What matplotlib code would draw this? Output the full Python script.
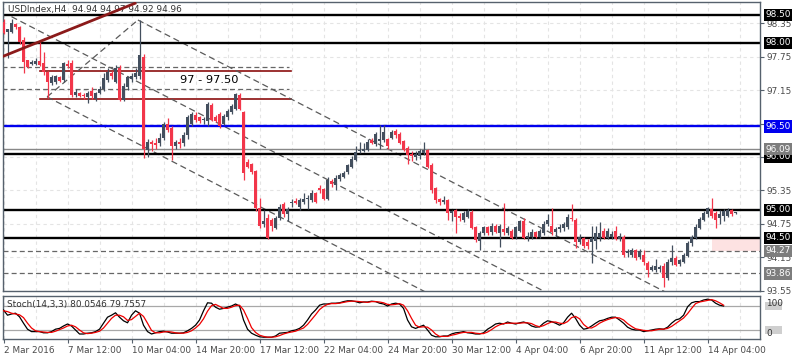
import matplotlib
matplotlib.use("Agg")
import matplotlib.pyplot as plt
from matplotlib.patches import Rectangle
import numpy as np

# ---------------- data ----------------
opens = [98.38, 98.20, 98.20, 98.33, 98.28, 98.05, 97.69, 97.62, 97.62, 97.68,
         97.63, 97.47, 97.28, 97.30, 97.38, 97.33, 97.62, 97.63, 97.06, 97.10,
         97.07, 97.02, 97.14, 97.00, 97.10, 97.17, 97.33, 97.45, 97.30, 97.55,
         96.98, 97.20, 97.35, 97.38, 97.40, 97.75, 96.08, 96.22, 96.20, 96.20,
         96.30, 96.55, 96.47, 96.15, 96.22, 96.20, 96.35, 96.55, 96.70, 96.66,
         96.62, 96.60, 96.88, 96.66, 96.72, 96.55, 96.66, 96.76, 96.82, 97.06,
         96.75, 95.86, 95.82, 95.70, 95.04, 94.75, 94.85, 94.82, 94.68, 94.85,
         95.10, 94.92, 95.12, 95.16, 95.05, 95.14, 95.20, 95.17, 95.30, 95.40,
         95.38, 95.20, 95.52, 95.45, 95.55, 95.60, 95.68, 95.78, 95.90, 96.06,
         96.06, 96.08, 96.25, 96.18, 96.24, 96.26, 96.27, 96.30, 96.42, 96.36,
         96.23, 96.12, 96.00, 95.95, 95.97, 96.02, 96.08, 95.80, 95.40, 95.20,
         95.14, 95.18, 94.95, 95.00, 94.90, 94.82, 94.88, 94.96, 94.70, 94.45,
         94.58, 94.70, 94.60, 94.72, 94.58, 94.66, 94.58, 94.62, 94.52, 94.62,
         94.80, 94.50, 94.52, 94.60, 94.52, 94.58, 94.75, 94.72, 94.60, 94.65,
         94.68, 94.70, 94.86, 94.82, 94.42, 94.50, 94.42, 94.42, 94.45, 94.50,
         94.62, 94.50, 94.52, 94.62, 94.48, 94.52, 94.22, 94.20, 94.28, 94.15,
         94.20, 94.05, 93.92, 93.92, 93.94, 94.00, 93.78, 94.06, 94.14, 94.03,
         94.06, 94.18, 94.40, 94.50, 94.68, 94.82, 94.92, 95.02, 94.95, 94.85,
         94.90, 94.90, 95.00, 94.94]
highs = [98.42, 98.25, 98.42, 98.36, 98.30, 98.10, 97.70, 97.70, 97.72, 98.02,
         97.83, 97.50, 97.42, 97.42, 97.40, 97.66, 97.70, 97.70, 97.18, 97.12,
         97.10, 97.14, 97.20, 97.12, 97.22, 97.45, 97.55, 97.50, 97.60, 97.60,
         97.28, 97.40, 97.45, 97.55, 98.41, 97.80, 96.28, 96.25, 96.30, 96.38,
         96.58, 96.65, 96.50, 96.25, 96.30, 96.40, 96.70, 96.75, 96.76, 96.68,
         96.66, 96.93, 96.92, 96.70, 96.75, 96.72, 96.82, 96.90, 97.10, 97.10,
         96.78, 95.92, 95.85, 95.72, 95.21, 95.00, 94.92, 94.85, 94.90, 95.10,
         95.15, 95.05, 95.20, 95.22, 95.22, 95.30, 95.26, 95.35, 95.32, 95.45,
         95.40, 95.60, 95.55, 95.62, 95.66, 95.70, 95.82, 95.96, 96.15, 96.22,
         96.20, 96.28, 96.30, 96.40, 96.52, 96.52, 96.30, 96.43, 96.45, 96.40,
         96.25, 96.15, 96.05, 96.05, 96.10, 96.22, 96.10, 95.85, 95.42, 95.22,
         95.25, 95.20, 95.00, 95.02, 94.95, 94.98, 95.02, 95.00, 94.72, 94.62,
         94.72, 94.72, 94.76, 94.75, 94.75, 95.12, 94.72, 94.65, 94.72, 94.82,
         94.85, 94.60, 94.65, 94.62, 94.66, 94.80, 94.92, 95.04, 94.70, 94.74,
         94.78, 94.92, 95.10, 94.85, 94.56, 94.52, 94.48, 94.72, 94.72, 94.78,
         94.68, 94.68, 94.62, 94.72, 94.58, 94.55, 94.30, 94.32, 94.30, 94.30,
         94.28, 94.08, 94.02, 94.12, 94.02, 94.05, 94.12, 94.37, 94.18, 94.12,
         94.22, 94.44, 94.55, 94.75, 94.88, 94.98, 95.05, 95.21, 94.98, 95.00,
         95.02, 95.03, 95.02, 94.97]
lows = [98.15, 97.73, 98.18, 98.25, 97.98, 97.46, 97.55, 97.60, 97.60, 97.58,
        97.42, 97.01, 97.25, 97.26, 97.30, 97.30, 97.55, 97.03, 97.02, 97.02,
        97.00, 96.92, 97.00, 96.95, 97.08, 97.14, 97.30, 97.35, 97.28, 96.95,
        96.95, 97.15, 97.30, 97.35, 97.35, 95.93, 95.95, 96.05, 96.10, 96.15,
        96.25, 96.40, 95.90, 96.10, 96.12, 96.15, 96.28, 96.50, 96.58, 96.56,
        96.55, 96.50, 96.60, 96.58, 96.48, 96.52, 96.62, 96.72, 96.80, 96.80,
        95.54, 95.75, 95.65, 94.98, 94.68, 94.70, 94.48, 94.62, 94.65, 94.82,
        94.88, 94.80, 95.05, 95.10, 95.00, 95.10, 95.02, 95.15, 95.12, 95.30,
        95.18, 95.18, 95.42, 95.35, 95.52, 95.58, 95.65, 95.75, 95.88, 96.02,
        96.04, 96.05, 96.18, 96.15, 96.10, 96.22, 96.10, 96.28, 96.30, 96.18,
        96.05, 95.82, 95.88, 95.90, 95.92, 95.98, 95.75, 95.30, 95.12, 95.08,
        95.10, 94.82, 94.80, 94.58, 94.80, 94.78, 94.85, 94.66, 94.42, 94.28,
        94.55, 94.55, 94.55, 94.58, 94.34, 94.55, 94.55, 94.48, 94.48, 94.60,
        94.48, 94.45, 94.48, 94.50, 94.50, 94.55, 94.72, 94.55, 94.52, 94.60,
        94.62, 94.66, 94.80, 94.32, 94.38, 94.32, 94.30, 94.05, 94.30, 94.45,
        94.48, 94.48, 94.48, 94.46, 94.45, 94.15, 94.15, 94.15, 94.10, 94.12,
        94.02, 93.80, 93.90, 93.88, 93.88, 93.62, 93.75, 94.02, 94.00, 94.00,
        94.04, 94.16, 94.36, 94.48, 94.65, 94.80, 94.88, 94.85, 94.68, 94.75,
        94.80, 94.88, 94.90, 94.92]
closes = [98.18, 98.24, 98.35, 98.28, 98.02, 97.66, 97.57, 97.66, 97.67, 97.61,
          97.47, 97.30, 97.38, 97.40, 97.32, 97.63, 97.58, 97.06, 97.12, 97.05,
          97.04, 97.10, 97.05, 97.10, 97.18, 97.37, 97.48, 97.40, 97.55, 96.97,
          97.22, 97.38, 97.40, 97.45, 97.78, 96.10, 96.22, 96.18, 96.16, 96.30,
          96.55, 96.43, 96.15, 96.22, 96.18, 96.35, 96.66, 96.72, 96.62, 96.60,
          96.63, 96.90, 96.62, 96.60, 96.50, 96.68, 96.78, 96.86, 97.08, 96.82,
          95.66, 95.78, 95.68, 95.04, 94.72, 94.80, 94.50, 94.72, 94.86, 95.05,
          94.92, 95.02, 95.15, 95.12, 95.18, 95.20, 95.22, 95.30, 95.15, 95.35,
          95.20, 95.53, 95.46, 95.57, 95.62, 95.66, 95.80, 95.92, 96.04, 96.08,
          96.10, 96.22, 96.20, 96.36, 96.28, 96.40, 96.15, 96.40, 96.35, 96.20,
          96.08, 95.98, 95.96, 96.00, 96.05, 96.08, 95.78, 95.36, 95.18, 95.15,
          95.18, 94.95, 94.98, 94.88, 94.85, 94.95, 94.98, 94.68, 94.46, 94.58,
          94.70, 94.58, 94.72, 94.60, 94.72, 94.60, 94.68, 94.50, 94.70, 94.80,
          94.50, 94.54, 94.60, 94.52, 94.62, 94.75, 94.82, 94.60, 94.66, 94.70,
          94.75, 94.88, 94.83, 94.42, 94.52, 94.35, 94.35, 94.50, 94.58, 94.58,
          94.50, 94.62, 94.56, 94.48, 94.53, 94.20, 94.27, 94.28, 94.14, 94.26,
          94.06, 93.92, 93.97, 94.00, 93.98, 93.78, 94.06, 94.14, 94.02, 94.10,
          94.20, 94.40, 94.52, 94.70, 94.84, 94.95, 95.03, 94.90, 94.82, 94.92,
          94.98, 95.00, 94.93, 94.96]

stoch_main = [70, 57, 60, 62, 53, 37, 22, 16, 16, 16, 13, 13, 16, 22, 24, 30, 35, 30, 20, 10,
              10, 12, 13, 16, 22, 37, 52, 57, 63, 52, 43, 38, 57, 68, 62, 32, 16, 10, 13, 16,
              17, 15, 12, 12, 12, 13, 18, 24, 32, 45, 68, 88, 87, 77, 72, 74, 77, 80, 85, 80,
              45, 22, 12, 7, 3, 2, 2, 2, 5, 12, 13, 14, 18, 20, 24, 32, 45, 60, 70, 82,
              85, 85, 87, 87, 88, 91, 93, 93, 91, 88, 90, 90, 92, 91, 87, 85, 80, 85, 87, 85,
              74, 45, 28, 24, 28, 32, 20, 7, 3, 3, 5, 5, 10, 13, 14, 16, 13, 12, 10, 10,
              13, 22, 28, 35, 37, 35, 40, 37, 35, 38, 40, 37, 30, 27, 28, 37, 43, 41, 37, 32,
              38, 52, 62, 49, 32, 22, 24, 30, 37, 43, 45, 49, 52, 52, 45, 37, 27, 22, 20, 20,
              16, 18, 20, 22, 23, 22, 27, 37, 45, 48, 57, 78, 88, 91, 91, 95, 97, 95, 87, 82,
              80]
stoch_signal = [68, 66, 62, 60, 58, 51, 37, 25, 18, 16, 15, 14, 14, 17, 21, 25, 30, 32, 28, 20,
                13, 11, 12, 14, 17, 25, 37, 49, 57, 57, 53, 44, 46, 54, 62, 54, 37, 19, 13, 13,
                15, 16, 15, 13, 12, 12, 14, 18, 25, 34, 48, 67, 81, 84, 79, 74, 74, 77, 81, 82,
                70, 49, 26, 14, 7, 4, 2, 2, 3, 6, 10, 13, 15, 17, 21, 25, 34, 46, 58, 71,
                79, 84, 86, 86, 87, 89, 91, 92, 92, 91, 90, 89, 91, 91, 90, 88, 84, 83, 84, 86,
                82, 68, 49, 32, 27, 28, 27, 20, 10, 4, 4, 4, 7, 9, 12, 14, 14, 14, 12, 11,
                11, 15, 21, 28, 33, 36, 37, 37, 37, 37, 38, 38, 36, 31, 28, 31, 36, 40, 40, 37,
                36, 41, 51, 54, 48, 34, 26, 25, 30, 37, 42, 46, 49, 51, 50, 45, 36, 29, 23, 21,
                19, 18, 18, 20, 22, 22, 24, 29, 36, 43, 50, 61, 74, 86, 90, 92, 94, 96, 93, 88,
                82]

date_labels = ["2 Mar 2016", "7 Mar 12:00", "10 Mar 04:00", "14 Mar 20:00", "17 Mar 12:00",
               "22 Mar 04:00", "24 Mar 20:00", "30 Mar 12:00", "4 Apr 04:00", "6 Apr 20:00",
               "11 Apr 12:00", "14 Apr 04:00"]
price_ticks = [98.35, 97.75, 97.15, 96.55, 95.95, 95.35, 94.75, 94.15, 93.55]
price_tick_labels = ["98.35", "97.75", "97.15", "", "", "95.35", "94.75", "94.15", "93.55"]

# horizontal levels drawn on the chart
black_levels = [98.50, 98.00, 96.00, 95.00, 94.50]
blue_level = 96.50
grey_level = 96.09
dashed_levels = [94.27, 93.86]
zone_levels = [97.50, 97.00]          # dark red box lines "97 - 97.50"
zone_dashed = [97.57, 97.17]
zone_bars = [9.1, 71.9]
zone_dashed_bars = [-0.3, 71.4]
trend_bars = [-0.4, 33.2]             # dark red trend line
trend_prices = [97.75, 98.72]
pitch_bars = [2.0, 10.9, 33.6]        # pitchfork anchors
pitch_prices = [98.47, 97.03, 98.41]
pink_zone = [94.27, 94.50]
pink_start = 177
stoch_levels = [80, 20]
stoch_axis_labels = ["100", "0"]

title = "USDIndex,H4  94.94 94.97 94.92 94.96"
stoch_title = "Stoch(14,3,3) 80.0546 79.7557"

# ---------------- drawing ----------------
BULL = "#434f5e"
BEAR = "#f2364a"
FRAME = "#56616d"
GRID = "#e4e4e4"
TXT = "#4a4a4a"
FS = 6.4

fig = plt.figure(figsize=(8, 3.6), dpi=100)
fig.patch.set_facecolor("white")
ax = fig.add_axes([2.5 / 800, 1 - 291 / 360, 757.5 / 800, 288.7 / 360])
ax2 = fig.add_axes([2.5 / 800, 1 - 339.3 / 360, 757.5 / 800, 43.3 / 360])

n = len(opens)
idx = np.arange(n)
xmax = 189.1
for a in (ax, ax2):
    a.set_xlim(-0.25, xmax)
    for s in a.spines.values():
        s.set_color(FRAME)
        s.set_linewidth(1.0)
    for g in range(0, 190, 8):
        a.axvline(g, color=GRID, lw=0.8, ls=(0, (3, 3)), zorder=0)

ax.set_ylim(93.545, 98.728)

for p in price_ticks:
    ax.axhline(p, color=GRID, lw=0.8, ls=(0, (3, 3)), zorder=0)

# pink zone
ax.fill_between([pink_start, xmax], pink_zone[0], pink_zone[1], color="#fde2e2", zorder=0.5, lw=0)

# dashed zone lines and dark red zone lines
for p in zone_dashed:
    ax.plot(zone_dashed_bars, [p, p], color="#666666", lw=0.9, ls=(0, (4, 2.5)), zorder=1)
for p in zone_levels:
    ax.plot(zone_bars, [p, p], color="#8b0e0e", lw=1.2, zorder=1)

# pitchfork
mid_bar = (pitch_bars[1] + pitch_bars[2]) / 2
mid_price = (pitch_prices[1] + pitch_prices[2]) / 2
slope = (mid_price - pitch_prices[0]) / (mid_bar - pitch_bars[0])
PF = dict(color="#5a5a5a", lw=0.9, ls=(0, (5, 3)), zorder=1)
for b0, p0 in zip(pitch_bars, pitch_prices):
    ax.plot([b0, xmax + 5], [p0, p0 + slope * (xmax + 5 - b0)], **PF)
ax.plot(pitch_bars[1:], pitch_prices[1:], **PF)

# horizontal levels
for p in black_levels:
    ax.axhline(p, color="black", lw=1.7, zorder=2)
ax.axhline(blue_level, color="#0000ee", lw=1.7, zorder=2)
ax.axhline(grey_level, color="#888888", lw=1.0, zorder=2)
for p in dashed_levels:
    ax.axhline(p, color="#666666", lw=0.9, ls=(0, (4, 2.5)), zorder=2)

# candles
o = np.array(opens); h = np.array(highs); l = np.array(lows); c = np.array(closes)
up = c >= o
colors = np.where(up, BULL, BEAR)
ax.vlines(idx, l, h, colors=colors, lw=0.9, zorder=3)
body_bottom = np.minimum(o, c)
body_h = np.maximum(np.abs(c - o), 0.015)
ax.bar(idx, body_h, bottom=body_bottom, width=0.72, color=colors, lw=0, zorder=4)

# trend line
ax.plot(trend_bars, trend_prices, color="#8b1a1a", lw=2.0, zorder=5, solid_capstyle="butt")

# texts
ax.text(0.007, 0.975, title, transform=ax.transAxes, fontsize=FS, color="#333333",
        ha="left", va="center", zorder=4)
ax.text(51.5, 97.34, "97 - 97.50", fontsize=8.2, color="black", ha="center", va="center", zorder=6)

# right price axis
ax.yaxis.tick_right()
ax.set_yticks(price_ticks)
ax.set_yticklabels(price_tick_labels)
ax.tick_params(axis="y", length=3, width=0.8, color=FRAME, labelsize=FS, labelcolor=TXT, pad=2)
ax.set_xticks([])

def box_label(a, y, text, fc, tc="white"):
    a.text(1.0072, y, text, transform=a.get_yaxis_transform(), ha="left", va="center",
           fontsize=FS, color=tc, zorder=10, clip_on=False,
           bbox=dict(boxstyle="square,pad=0.18", fc=fc, ec="none"))

box_label(ax, 98.50, "98.50", "black")
box_label(ax, 98.00, "98.00", "black")
box_label(ax, 96.50, "96.50", "#0000ee")
box_label(ax, 95.955, "96.00", "black")
box_label(ax, 96.09, "96.09", "#7d7d7d")
box_label(ax, 95.00, "95.00", "black")
box_label(ax, 94.50, "94.50", "black")
box_label(ax, 94.27, "94.27", "#7d7d7d")
box_label(ax, 93.86, "93.86", "#7d7d7d")

# stochastic panel
ax2.set_ylim(-3.25, 105)
for lv in stoch_levels:
    ax2.axhline(lv, color="#a8a8a8", lw=0.9, zorder=1)
    ax2.add_patch(Rectangle((1.0072, lv - 11), 0.022, 22, transform=ax2.get_yaxis_transform(),
                            fc="#cfcfcf", ec="none", zorder=9, clip_on=False))
ks = np.arange(len(stoch_main))
ax2.plot(ks, stoch_main, color="black", lw=0.9, zorder=3)
ax2.plot(np.arange(len(stoch_signal)), stoch_signal, color="#ee0000", lw=0.9, zorder=4)
ax2.text(0.006, 0.80, stoch_title, transform=ax2.transAxes, fontsize=FS, color="#333333",
         ha="left", va="center", zorder=5)
ax2.yaxis.tick_right()
ax2.set_yticks([])
ax2.text(1.008, 86, stoch_axis_labels[0], transform=ax2.get_yaxis_transform(), fontsize=FS,
         color="#333333", ha="left", va="center", zorder=11, clip_on=False)
ax2.text(1.008, 12, stoch_axis_labels[1], transform=ax2.get_yaxis_transform(), fontsize=FS,
         color="#333333", ha="left", va="center", zorder=11, clip_on=False)

tick_pos = [16 * k for k in range(len(date_labels))]
ax2.set_xticks(tick_pos)
ax2.set_xticklabels(date_labels, ha="left")
ax2.tick_params(axis="x", length=3, width=0.8, color=FRAME, labelsize=FS, labelcolor=TXT, pad=1.5)
for lbl in ax2.get_xticklabels():
    lbl.set_horizontalalignment("left")

fig.savefig("out.png", dpi=100, facecolor="white")
